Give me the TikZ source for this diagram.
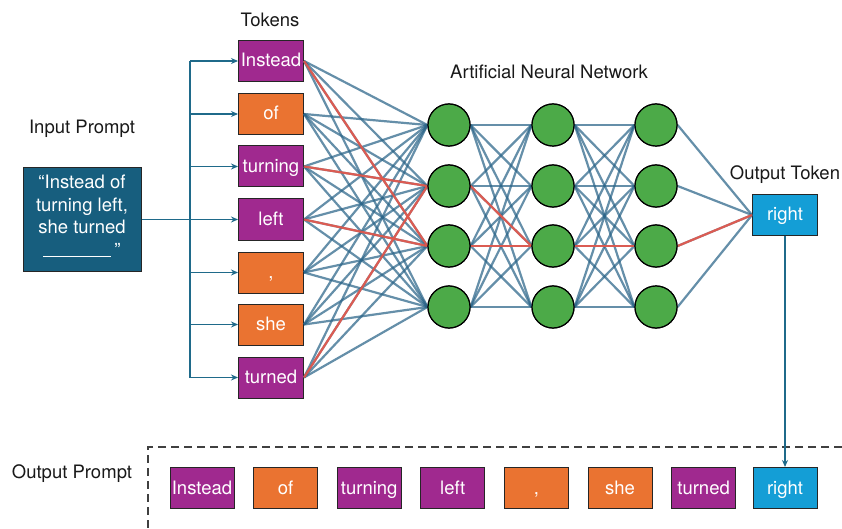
\documentclass[tikz,border=0pt]{standalone}
\usepackage{fontspec}
\setmainfont{TeX Gyre Heros}
\usetikzlibrary{arrows.meta}
\definecolor{tokpurple}{HTML}{A0298F}
\definecolor{tokorange}{HTML}{EA7331}
\definecolor{tokblue}{HTML}{149ED6}
\definecolor{inbox}{HTML}{175E7E}
\definecolor{nodegreen}{HTML}{4CAA48}
\definecolor{edgeblue}{HTML}{2A6488}
\definecolor{edgered}{HTML}{E8574A}
\definecolor{arrowblue}{HTML}{1F6A8A}
\begin{document}
\begin{tikzpicture}[x=1pt,y=-1pt,
  tok/.style={draw=black!85, line width=1pt, minimum width=65pt, minimum height=41pt, inner sep=0pt, text=white, font=\fontsize{18.5}{20}\selectfont, text height=14pt, text depth=2pt},
  purp/.style={tok, fill=tokpurple},
  orng/.style={tok, fill=tokorange},
  blu/.style={tok, fill=tokblue},
  neuron/.style={circle, draw=black, line width=1.2pt, fill=nodegreen, minimum size=42pt, inner sep=0pt},
  nnedge/.style={draw=edgeblue, line width=2.2pt, opacity=0.72},
  rededge/.style={draw=edgered, line width=2.2pt, opacity=0.9},
  feed/.style={draw=arrowblue, line width=1.3pt, -{Stealth[length=7pt,width=6pt]}},
  lbl/.style={font=\fontsize{18.5}{20}\selectfont, text=black!90}]
\useasboundingbox (0,0) rectangle (842,529);

% labels
\node[lbl] (ltok) at (270,20) {Tokens};
\node[lbl] (lin) at (82,129) {Input Prompt};
\node[lbl] (lann) at (549,72) {Artificial Neural Network};
\node[lbl] (lout) at (785,175) {Output Token};
\node[lbl] (lop) at (72,474) {Output Prompt};

% input box
\node[draw=black!85, line width=1pt, fill=inbox, minimum width=118pt, minimum height=103pt, inner sep=0pt] (inp) at (82,219.5) {};
\node[text=white, align=center, font=\fontsize{18.5}{22.5}\selectfont] (intext) at (82,216) {“Instead of\\turning left,\\she turned\\\rule[-1pt]{68pt}{0.7pt}\,”};

% tokens
\node[purp] (t1) at (271,61) {Instead};
\node[orng] (t2) at (271,114) {of};
\node[purp] (t3) at (271,166.5) {turning};
\node[purp] (t4) at (271,219.5) {left};
\node[orng] (t5) at (271,272.5) {,};
\node[orng] (t6) at (271,324.5) {she};
\node[purp] (t7) at (271,377.5) {turned};

% neurons
\foreach \j/\y in {1/125,2/186,3/246,4/307}{
  \node[neuron] (a\j) at (449,\y) {};
  \node[neuron] (b\j) at (553,\y) {};
  \node[neuron] (c\j) at (656,\y) {};
}
\node[blu] (out) at (785,215) {right};

% edges
\foreach \i in {1,...,7}{\foreach \j in {1,...,4}{\draw[nnedge] (t\i.east) -- (a\j.west);}}
\foreach \i in {1,...,4}{\foreach \j in {1,...,4}{
  \draw[nnedge] (a\i.east) -- (b\j.west);
  \draw[nnedge] (b\i.east) -- (c\j.west);}}
\foreach \i in {1,...,4}{\draw[nnedge] (c\i.east) -- (out.west);}
\draw[rededge] (t1.east) -- (a3.west);
\draw[rededge] (t3.east) -- (a2.west);
\draw[rededge] (t4.east) -- (a3.west);
\draw[rededge] (t7.east) -- (a2.west);
\draw[rededge] (a2.east) -- (b3.west);
\draw[rededge] (a3.east) -- (b3.west);
\draw[rededge] (b3.east) -- (c3.west);
\draw[rededge] (c3.east) -- (out.west);
% redraw neurons on top
\foreach \j/\y in {1/125,2/186,3/246,4/307}{
  \node[neuron] at (449,\y) {};
  \node[neuron] at (553,\y) {};
  \node[neuron] at (656,\y) {};
}

% feed lines
\coordinate (bustop) at (190,61);
\coordinate (busbot) at (190,377.5);
\draw[draw=arrowblue, line width=1.3pt] (bustop) -- (busbot);
\foreach \i in {1,2,3,5,6,7}{\draw[feed] (t\i.west -| bustop) -- (t\i.west);}
\draw[feed] (inp.east) -- (t4.west);

% output prompt
\coordinate (dl) at (148,447);
\coordinate (dr) at (842,447);
\coordinate (db) at (148,529);
\draw[black!75, line width=1.3pt, dash pattern=on 8pt off 5pt] (dr) -- (dl) -- (db);
\foreach \k/\w/\s in {1/Instead/purp,2/of/orng,3/turning/purp,4/left/purp,5/{,}/orng,6/she/orng,7/turned/purp}{
  \node[\s, minimum width=64pt] (o\k) at ({202+83.6*(\k-1)},488) {\w};
}
\node[blu, minimum width=64pt] (o8) at (785,488) {right};
\draw[feed] (out.south) -- (o8.north);
\end{tikzpicture}
\end{document}
